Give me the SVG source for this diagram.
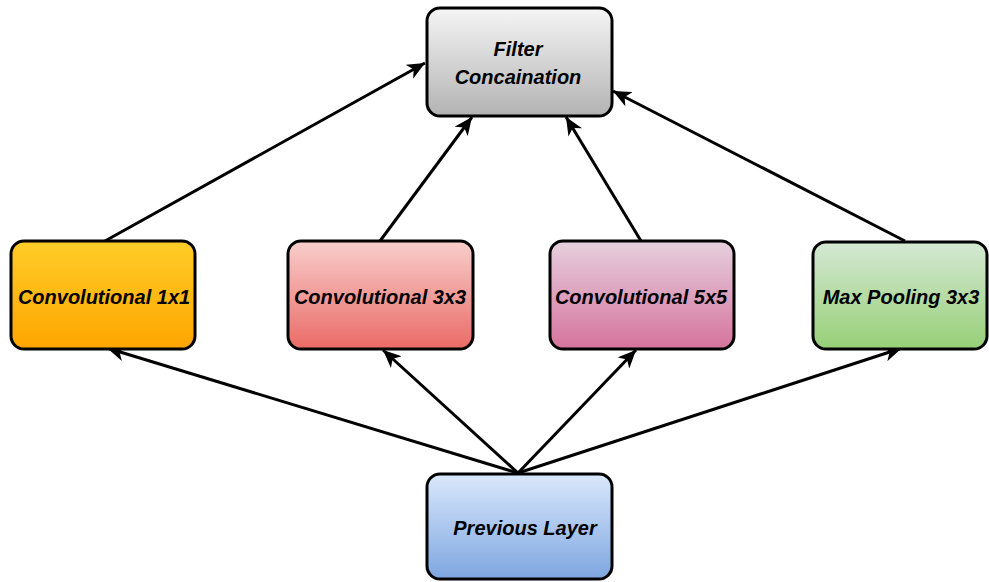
<svg xmlns="http://www.w3.org/2000/svg" width="989" height="582" viewBox="0 0 989 582">
<defs>
<linearGradient id="gGray" x1="0" y1="0" x2="0" y2="1"><stop offset="0" stop-color="#f5f5f5"/><stop offset="1" stop-color="#b3b3b3"/></linearGradient>
<linearGradient id="gOrange" x1="0" y1="0" x2="0" y2="1"><stop offset="0" stop-color="#ffcd28"/><stop offset="1" stop-color="#ffa500"/></linearGradient>
<linearGradient id="gRed" x1="0" y1="0" x2="0" y2="1"><stop offset="0" stop-color="#f8cecc"/><stop offset="1" stop-color="#ea6b66"/></linearGradient>
<linearGradient id="gPink" x1="0" y1="0" x2="0" y2="1"><stop offset="0" stop-color="#e6d0de"/><stop offset="1" stop-color="#d5739d"/></linearGradient>
<linearGradient id="gGreen" x1="0" y1="0" x2="0" y2="1"><stop offset="0" stop-color="#d5e8d4"/><stop offset="1" stop-color="#97d077"/></linearGradient>
<linearGradient id="gBlue" x1="0" y1="0" x2="0" y2="1"><stop offset="0" stop-color="#dae8fc"/><stop offset="1" stop-color="#7ea6e0"/></linearGradient>
<marker id="arr" markerUnits="userSpaceOnUse" markerWidth="20" markerHeight="16" refX="18" refY="8" orient="auto" viewBox="0 0 20 16">
<path d="M0,0 L18,8 L0,16 L5,8 Z" fill="#000"/>
</marker>
</defs>
<style>
.box{stroke:#000;stroke-width:3}
.lbl{font-family:"Liberation Sans",Arial,sans-serif;font-size:20px;font-weight:bold;font-style:italic;fill:#000;text-anchor:middle}
.edge{stroke:#000;stroke-width:3;fill:none;marker-end:url(#arr)}
</style>
<g id="connectors">
<line class="edge" x1="105" y1="241" x2="425" y2="63"/>
<line class="edge" x1="380" y1="241" x2="472" y2="117"/>
<line class="edge" x1="641" y1="241" x2="566" y2="117"/>
<line class="edge" x1="905" y1="241" x2="613" y2="91"/>
<line class="edge" x1="518" y1="473" x2="107" y2="348"/>
<line class="edge" x1="518" y1="473" x2="383" y2="350"/>
<line class="edge" x1="518" y1="473" x2="636" y2="350"/>
<line class="edge" x1="518" y1="473" x2="902" y2="348"/>
</g>
<g id="filter">
<rect class="box" x="427" y="8" width="185" height="108" rx="13" fill="url(#gGray)"/>
<text class="lbl" x="518" y="56">Filter</text>
<text class="lbl" x="518" y="84">Concaination</text>
</g>
<g id="conv1x1">
<rect class="box" x="11" y="241" width="184" height="108" rx="13" fill="url(#gOrange)"/>
<text class="lbl" x="104" y="304">Convolutional 1x1</text>
</g>
<g id="conv3x3">
<rect class="box" x="288" y="241" width="185" height="108" rx="13" fill="url(#gRed)"/>
<text class="lbl" x="380" y="304">Convolutional 3x3</text>
</g>
<g id="conv5x5">
<rect class="box" x="550" y="241" width="184" height="108" rx="13" fill="url(#gPink)"/>
<text class="lbl" x="641" y="304">Convolutional 5x5</text>
</g>
<g id="maxpool">
<rect class="box" x="813" y="242" width="174" height="107" rx="13" fill="url(#gGreen)"/>
<text class="lbl" x="901" y="304">Max Pooling 3x3</text>
</g>
<g id="prev">
<rect class="box" x="427" y="474" width="185" height="105" rx="13" fill="url(#gBlue)"/>
<text class="lbl" x="525" y="535">Previous Layer</text>
</g>
</svg>
